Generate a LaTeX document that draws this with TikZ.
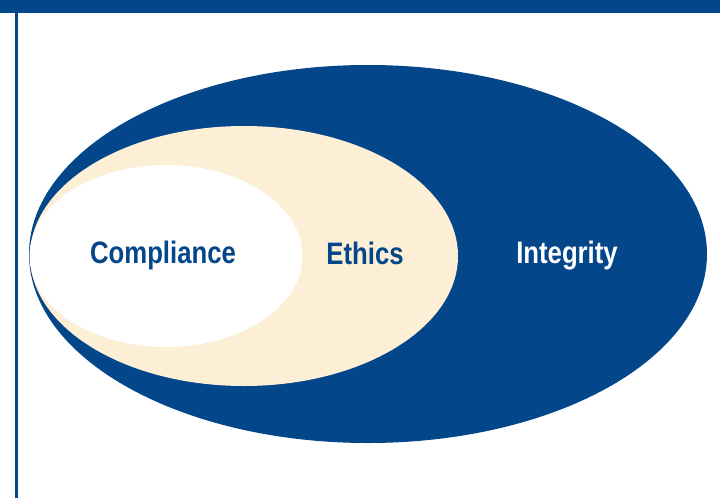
\documentclass[tikz,border=0pt]{standalone}
\usepackage{fontspec}
\newfontfamily\labelfont[FakeStretch=0.83]{Liberation Sans}
\definecolor{navy}{HTML}{03478A}
\definecolor{cream}{HTML}{FDEED6}
\begin{document}
\begin{tikzpicture}[x=1pt,y=-1pt,
  label text/.style={anchor=base,inner sep=0pt,
    font=\labelfont\bfseries\fontsize{31}{31}\selectfont}]
  \useasboundingbox (0,0) rectangle (720,498);
  \fill[white] (0,0) rectangle (720,498);
  % frame: top band and left rule
  \fill[navy] (0,0) rectangle (720,13);
  \fill[navy] (15,13) rectangle (17.5,498);
  % nested ellipses
  \fill[navy]  (368,254) ellipse [x radius=339, y radius=189];
  \fill[cream] (244,256) ellipse [x radius=214, y radius=130];
  \fill[white] (166,256) ellipse [x radius=136.5, y radius=91];
  % labels
  \node[label text,text=navy]  (compliance) at (163,263) {Compliance};
  \node[label text,text=navy]  (ethics)     at (365,264) {Ethics};
  \node[label text,text=white] (integrity)  at (567,263) {Integrity};
\end{tikzpicture}
\end{document}
